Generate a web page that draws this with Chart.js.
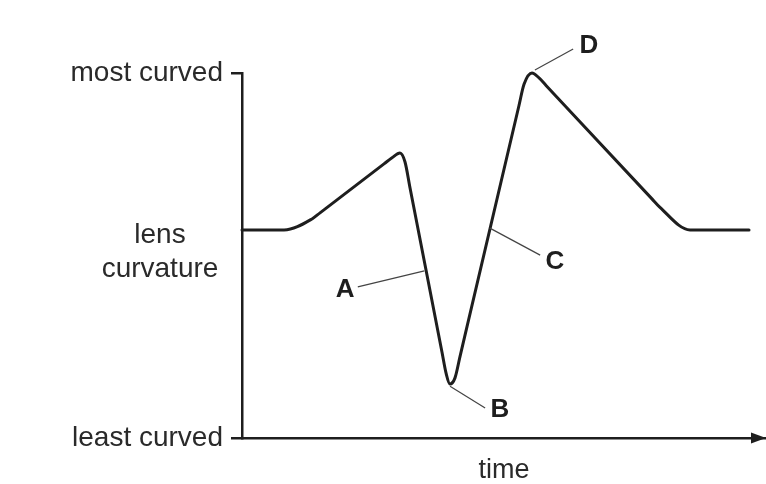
<!DOCTYPE html>
<html lang="en">
<head>
    <meta charset="UTF-8">
    <title>lens curvature</title>
    <style>
        body {
            margin: 0;
            padding: 0;
            background-color: white;
        }
        .chart-box {
            width: 766px;
            height: 484px;
        }
    </style>
    <script src="https://cdn.jsdelivr.net/npm/chart.js"></script>
</head>
<body>
<div class="chart-box">
    <canvas id="lensChart"></canvas>
</div>
<script>
    // values (time 0-100, curvature 0 = least, 100 = most)
    const timeVals = [0, 8.02, 13.36, 14.89, 27.10, 28.63, 30.15, 31.11, 32.06, 38.17, 38.93, 39.69,
        40.65, 41.60, 52.86, 53.82, 55.34, 56.68, 58.02, 78.24, 79.77, 85.50, 96.76];
    const curvatureVals = [57, 57, 60.02, 61.69, 75.10, 76.79, 78.08, 75.62, 68.58, 23.48, 17.84, 14.79,
        16.47, 22.30, 91.10, 96.90, 100, 98.66, 96.60, 65.51, 63.18, 57, 57];

    const yTickVals = [0, 100];
    const yTickLabels = ['least curved', 'most curved'];
    const yTitleLines = ['lens', 'curvature'];
    const xTitle = 'time';

    // letters A-D: point on the curve, end of the leader line, letter position
    const markNames = ['A', 'B', 'C', 'D'];
    const markOnX = [34.8, 39.7, 47.3, 55.9];
    const markOnY = [45.8, 14.2, 57.5, 100.8];
    const markEndX = [22.1, 46.4, 56.9, 63.2];
    const markEndY = [41.4, 8.2, 50.1, 106.6];
    const markTextX = [19.7, 49.2, 59.7, 66.2];
    const markTextY = [40.5, 7.7, 48.2, 107.4];

    const fontName = "'Liberation Sans', Arial, sans-serif";
    const ink = '#1e1e1e';

    const points = timeVals.map((t, i) => ({ x: t, y: curvatureVals[i] }));

    // extra drawing: arrow head, y title, letters with leader lines
    const extras = {
        id: 'extras',
        afterDraw(chart) {
            const ctx = chart.ctx;
            const xs = chart.scales.x;
            const ys = chart.scales.y;
            const area = chart.chartArea;
            ctx.save();

            // arrow at the end of the time axis
            const ay = ys.getPixelForValue(0);
            ctx.fillStyle = ink;
            ctx.beginPath();
            ctx.moveTo(area.right, ay);
            ctx.lineTo(area.right - 15, ay - 5.5);
            ctx.lineTo(area.right - 15, ay + 5.5);
            ctx.closePath();
            ctx.fill();

            // y axis title, not rotated
            ctx.fillStyle = '#2a2a2a';
            ctx.font = '28px ' + fontName;
            ctx.textAlign = 'center';
            ctx.textBaseline = 'alphabetic';
            ctx.fillText(yTitleLines[0], area.left - 82, ys.getPixelForValue(53.4));
            ctx.fillText(yTitleLines[1], area.left - 82, ys.getPixelForValue(44.1));

            // leader lines and letters
            ctx.strokeStyle = '#444';
            ctx.lineWidth = 1.2;
            ctx.font = 'bold 26px ' + fontName;
            ctx.textBaseline = 'middle';
            markNames.forEach((name, i) => {
                ctx.beginPath();
                ctx.moveTo(xs.getPixelForValue(markOnX[i]), ys.getPixelForValue(markOnY[i]));
                ctx.lineTo(xs.getPixelForValue(markEndX[i]), ys.getPixelForValue(markEndY[i]));
                ctx.stroke();
                ctx.fillStyle = ink;
                ctx.fillText(name, xs.getPixelForValue(markTextX[i]), ys.getPixelForValue(markTextY[i]));
            });
            ctx.restore();
        }
    };

    new Chart(document.getElementById('lensChart'), {
        type: 'line',
        data: {
            datasets: [{
                data: points,
                borderColor: ink,
                borderWidth: 3,
                pointRadius: 0,
                cubicInterpolationMode: 'monotone',
                borderCapStyle: 'round',
                borderJoinStyle: 'round',
                fill: false,
                clip: false
            }]
        },
        options: {
            responsive: true,
            maintainAspectRatio: false,
            animation: false,
            layout: { padding: { top: 73, left: 0, right: 0, bottom: 0 } },
            plugins: {
                legend: { display: false },
                tooltip: { enabled: false }
            },
            scales: {
                x: {
                    type: 'linear',
                    min: 0,
                    max: 100,
                    grid: { display: false },
                    border: { display: true, color: ink, width: 2.5 },
                    ticks: { display: false },
                    title: {
                        display: true,
                        text: xTitle,
                        color: '#2a2a2a',
                        font: { family: fontName, size: 27, lineHeight: 1 },
                        padding: { top: 0, bottom: 0 }
                    },
                    afterFit(scale) { scale.height = 46; }
                },
                y: {
                    min: 0,
                    max: 100,
                    afterBuildTicks(scale) {
                        scale.ticks = yTickVals.map(v => ({ value: v }));
                    },
                    grid: {
                        display: true,
                        drawOnChartArea: false,
                        drawTicks: true,
                        tickLength: 11,
                        color: ink,
                        lineWidth: 2.5
                    },
                    border: { display: true, color: ink, width: 2.5 },
                    ticks: {
                        padding: 8,
                        color: '#2a2a2a',
                        font: { family: fontName, size: 28 },
                        callback: (value) => yTickLabels[yTickVals.indexOf(value)]
                    },
                    afterFit(scale) { scale.width = 242; }
                }
            }
        },
        plugins: [extras]
    });
</script>
</body>
</html>
